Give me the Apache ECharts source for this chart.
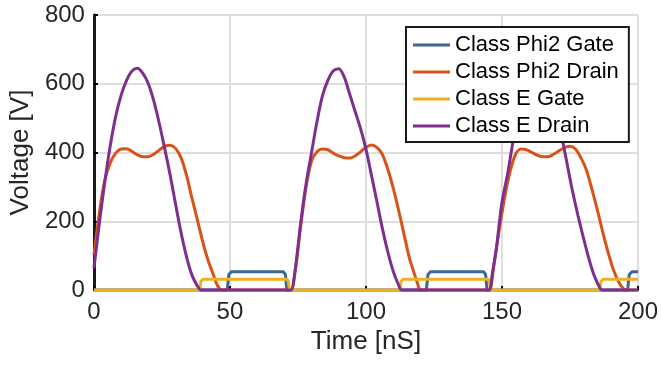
<!DOCTYPE html>
<html>
<head>
<meta charset="utf-8">
<script src="https://cdn.jsdelivr.net/npm/echarts@6/dist/echarts.min.js"></script>
<style>
  html, body { margin: 0; padding: 0; background: #fff; }
  #chart { width: 661px; height: 365px; }
</style>
</head>
<body>
<div id="chart"></div>
<script>
// values (time in nS, voltage in V)
const seriesNames = ['Class Phi2 Gate', 'Class Phi2 Drain', 'Class E Gate', 'Class E Drain']
const seriesColors = ['#3a6795', '#d95319', '#edb120', '#7e2f8e']

const xTicks = [0, 50, 100, 150, 200]
const yTicks = [0, 200, 400, 600, 800]

const phi2GateT = [0, 49, 49.6, 50.5, 69.6, 70.4, 70.9, 122.2, 122.8, 123.7, 143.3, 144, 144.5, 196.2, 196.8, 197.8, 200]
const phi2GateV = [0, 0, 45, 53, 53, 45, 0, 0, 45, 53, 53, 45, 0, 0, 45, 53, 53]

const phi2DrainT = [
  0, 2, 4, 6, 8, 10, 12, 14, 16, 18, 20, 22, 24, 26, 28, 30, 32, 34, 36, 38, 40, 42, 44, 45, 46, 47, 48,
  71.5, 72.5, 74, 76, 78, 80, 82, 84, 86, 88, 90, 92, 94, 96, 98, 100, 102, 104, 106, 108, 110, 112, 114, 116, 118, 119, 120, 121,
  144.4, 145.4, 147, 149, 151, 153, 155, 157, 159, 161, 163, 165, 167, 169, 171, 173, 175, 177, 179, 181, 183, 185, 187, 189, 191, 193, 194.5, 195.5, 196.5, 200
]
const phi2DrainV = [
  102, 225, 320, 370, 398, 410, 411, 403, 393, 388, 388, 395, 407, 418, 421, 412, 385, 335, 268, 205, 140, 85, 42, 20, 5, 0, 0,
  0, 0, 55, 185, 300, 375, 402, 410, 408, 398, 390, 385, 384, 390, 402, 415, 422, 415, 395, 352, 297, 232, 162, 92, 42, 18, 0, 0,
  0, 0, 70, 175, 270, 345, 395, 410, 408, 400, 392, 388, 388, 395, 405, 414, 418, 410, 385, 350, 295, 235, 170, 110, 58, 22, 5, 0, 0, 0
]

const classEGateT = [0, 38.9, 39.3, 40, 71, 71.5, 71.9, 112.5, 112.9, 113.6, 145, 145.4, 145.8, 185.9, 186.4, 187.2, 200]
const classEGateV = [0, 0, 25, 31, 31, 25, 0, 0, 25, 31, 31, 25, 0, 0, 25, 31, 31]

const classEDrainT = [
  0, 2, 4, 6, 8, 10, 12, 14, 16, 18, 20, 22, 24, 26, 28, 30, 32, 34, 36, 38, 39.3, 40.3,
  71.5, 72.5, 74, 76, 78, 80, 82, 84, 86, 88, 90, 92, 94, 96, 98, 100, 102, 104, 106, 108, 110, 112, 113, 114,
  144.4, 145.4, 146.5, 148, 150, 152, 154, 156, 158, 160, 162, 164, 166, 168, 170, 172, 174, 176, 178, 180, 182, 184, 186, 186.8, 187.8, 200
]
const classEDrainV = [
  63, 195, 315, 420, 505, 567, 610, 637, 645, 630, 600, 550, 485, 412, 335, 250, 168, 98, 44, 12, 0, 0,
  0, 0, 60, 195, 310, 400, 490, 565, 610, 638, 644, 620, 570, 520, 470, 410, 335, 258, 180, 112, 55, 14, 0, 0,
  0, 0, 50, 125, 255, 335, 430, 520, 580, 620, 642, 640, 618, 575, 515, 445, 365, 285, 215, 150, 90, 40, 6, 0, 0, 0
]

const zip = (t, v) => t.map((x, i) => [x, v[i]])

const font = 'Liberation Sans, Arial, Helvetica, sans-serif'
const textColor = '#262626'

function lineSeries(i, t, v, smooth) {
  return {
    name: seriesNames[i],
    type: 'line',
    data: zip(t, v),
    symbol: 'none',
    smooth: smooth,
    clip: false,
    lineStyle: { width: 3, color: seriesColors[i] },
    itemStyle: { color: seriesColors[i] }
  }
}

const chart = echarts.init(document.getElementById('chart'))
chart.setOption({
  animation: false,
  textStyle: { fontFamily: font },
  grid: { left: 91, right: 21, top: 15, bottom: 75 },
  xAxis: {
    type: 'value',
    min: xTicks[0],
    max: xTicks[xTicks.length - 1],
    interval: xTicks[1] - xTicks[0],
    name: 'Time [nS]',
    nameLocation: 'middle',
    nameGap: 35,
    nameTextStyle: { fontSize: 26, color: textColor, fontFamily: font },
    axisLine: { show: true, lineStyle: { color: '#000', width: 2 } },
    axisTick: { show: true, inside: true, length: 4, lineStyle: { color: '#000', width: 2 } },
    axisLabel: { fontSize: 24, color: textColor, margin: 10, fontFamily: font },
    splitLine: { show: true, lineStyle: { color: '#dedede', width: 2 } }
  },
  yAxis: {
    type: 'value',
    min: yTicks[0],
    max: yTicks[yTicks.length - 1],
    interval: yTicks[1] - yTicks[0],
    name: 'Voltage [V]',
    nameLocation: 'middle',
    nameGap: 57,
    nameTextStyle: { fontSize: 26, color: textColor, fontFamily: font },
    axisLine: { show: true, lineStyle: { color: '#1a1a1a', width: 3 } },
    axisTick: { show: true, inside: true, length: 4, lineStyle: { color: '#000', width: 2 } },
    axisLabel: { fontSize: 24, color: textColor, margin: 9, fontFamily: font },
    splitLine: { show: true, lineStyle: { color: '#dedede', width: 2 } }
  },
  legend: {
    data: seriesNames,
    orient: 'vertical',
    left: 406,
    top: 27,
    padding: [7, 10, 5, 7],
    icon: 'rect',
    itemWidth: 37,
    itemHeight: 3,
    itemGap: 5,
    backgroundColor: '#fff',
    borderColor: '#1a1a1a',
    borderWidth: 2,
    z: 10,
    textStyle: { fontSize: 22, color: '#000', fontFamily: font }
  },
  series: [
    lineSeries(0, phi2GateT, phi2GateV, false),
    lineSeries(1, phi2DrainT, phi2DrainV, 0.3),
    lineSeries(2, classEGateT, classEGateV, false),
    lineSeries(3, classEDrainT, classEDrainV, 0.3)
  ]
})
</script>
</body>
</html>
